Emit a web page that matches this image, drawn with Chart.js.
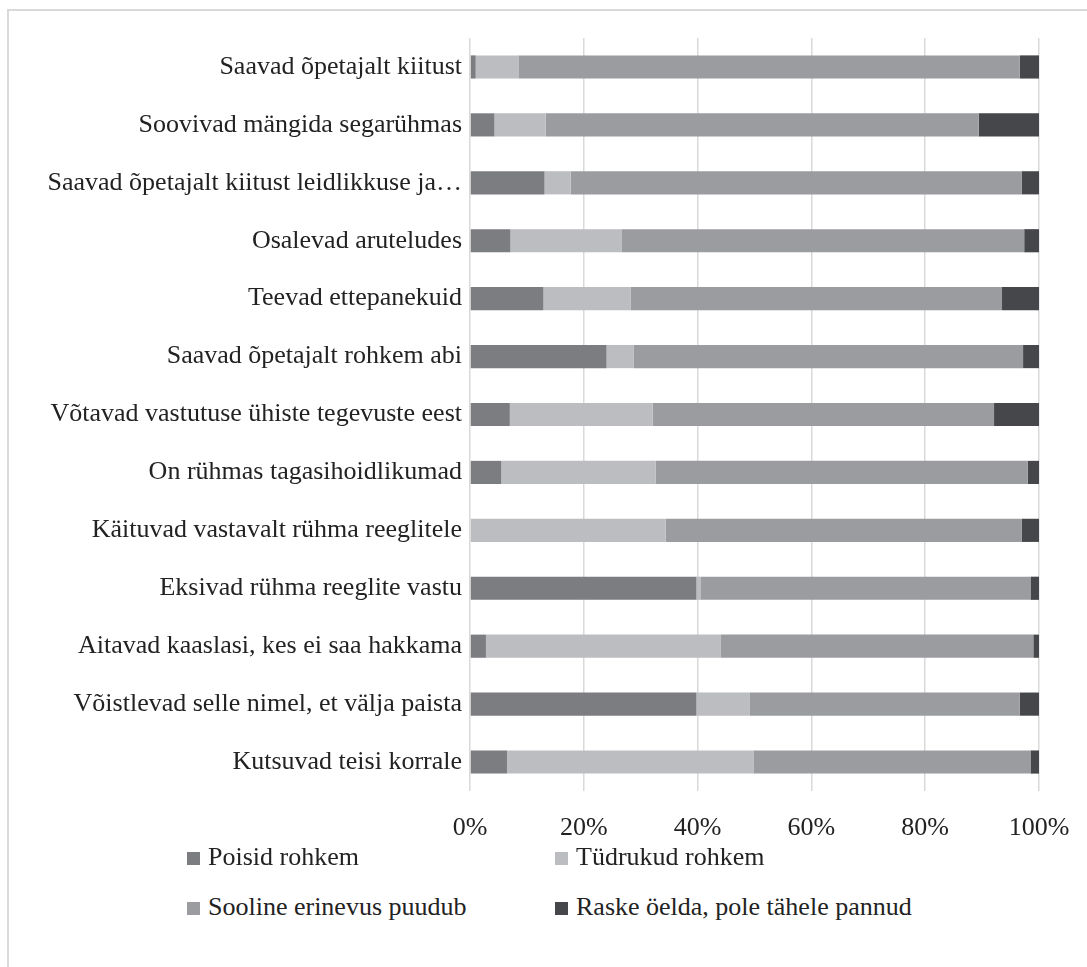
<!DOCTYPE html>
<html>
<head>
<meta charset="utf-8">
<script src="https://cdn.jsdelivr.net/npm/chart.js@4/dist/chart.umd.min.js"></script>
<style>
  html,body{margin:0;padding:0;background:#fff;overflow:hidden}
  #frame{position:absolute;left:7px;top:9px;width:1200px;height:1100px;border-top:2px solid #d9d9d9;border-left:2px solid #d9d9d9}
  #wrap{position:absolute;left:0;top:0;width:1087px;height:851px}
  #legend{position:absolute;left:0;top:0;font-family:"Liberation Serif",serif;font-size:26px;color:#222}
  .item{position:absolute;display:flex;align-items:center;white-space:nowrap;line-height:1}
  .box{width:13px;height:13px;margin-right:8px;margin-top:3px}
</style>
</head>
<body>
<div id="frame"></div>
<div id="wrap"><canvas id="chart"></canvas></div>
<div id="legend"></div>
<script>
// categories (top to bottom)
const categories = [
  'Saavad õpetajalt kiitust',
  'Soovivad mängida segarühmas',
  'Saavad õpetajalt kiitust leidlikkuse ja…',
  'Osalevad aruteludes',
  'Teevad ettepanekuid',
  'Saavad õpetajalt rohkem abi',
  'Võtavad vastutuse ühiste tegevuste eest',
  'On rühmas tagasihoidlikumad',
  'Käituvad vastavalt rühma reeglitele',
  'Eksivad rühma reeglite vastu',
  'Aitavad kaaslasi, kes ei saa hakkama',
  'Võistlevad selle nimel, et välja paista',
  'Kutsuvad teisi korrale'
];

const seriesNames = ['Poisid rohkem', 'Tüdrukud rohkem', 'Sooline erinevus puudub', 'Raske öelda, pole tähele pannud'];
const seriesColors = ['#7c7d81', '#bcbdc0', '#9b9ca0', '#46474a'];

// percent values, same order as categories
const poisid    = [1.0, 4.3, 13.1, 7.1, 12.9, 24.0, 7.0, 5.5, 0.0, 39.8, 2.8, 39.8, 6.5];
const tudrukud  = [7.5, 9.0, 4.6, 19.5, 15.3, 4.8, 25.1, 27.1, 34.4, 0.8, 41.3, 9.4, 43.4];
const erinevus  = [88.1, 76.1, 79.3, 70.8, 65.3, 68.4, 60.0, 65.4, 62.6, 57.9, 54.9, 47.4, 48.6];
const raske     = [3.4, 10.6, 3.0, 2.6, 6.5, 2.8, 7.9, 2.0, 3.0, 1.5, 1.0, 3.4, 1.5];

const xTicks = [0, 20, 40, 60, 80, 100];

const FONT = '"Liberation Serif", serif';
const seriesData = [poisid, tudrukud, erinevus, raske];

const datasets = seriesNames.map((name, i) => ({
  label: name,
  data: seriesData[i],
  backgroundColor: seriesColors[i],
  borderWidth: 0,
  categoryPercentage: 0.8,
  barPercentage: 0.5
}));

Chart.defaults.font.family = FONT;
Chart.defaults.color = '#222';

new Chart(document.getElementById('chart').getContext('2d'), {
  type: 'bar',
  data: { labels: categories, datasets },
  options: {
    indexAxis: 'y',
    responsive: true,
    maintainAspectRatio: false,
    animation: false,
    layout: { padding: { top: 38, right: 48, left: 0, bottom: 0 } },
    plugins: { legend: { display: false }, tooltip: { enabled: false } },
    scales: {
      x: {
        stacked: true,
        min: 0, max: 100,
        afterBuildTicks: s => { s.ticks = xTicks.map(v => ({ value: v })); },
        afterFit: s => { s.height = 60; s.paddingRight = 0; s.paddingLeft = 0; },
        border: { display: false },
        grid: { color: '#d9d9d9', lineWidth: 1.5, drawTicks: false },
        ticks: { padding: 22, font: { size: 26 }, color: '#222', callback: v => v + '%' }
      },
      y: {
        stacked: true,
        afterFit: s => { s.width = 470; s.paddingTop = 0; s.paddingBottom = 0; },
        border: { display: false },
        grid: { display: false, drawTicks: false },
        ticks: { padding: 8, font: { size: 26 }, color: '#222', autoSkip: false }
      }
    }
  }
});

// legend in two columns
const legendPos = [[187, 844], [555, 844], [187, 894], [555, 894]];
const legendEl = document.getElementById('legend');
seriesNames.forEach((name, i) => {
  const it = document.createElement('div');
  it.className = 'item';
  it.style.left = legendPos[i][0] + 'px';
  it.style.top = legendPos[i][1] + 'px';
  it.innerHTML = `<span class="box" style="background:${seriesColors[i]}"></span><span>${name}</span>`;
  legendEl.appendChild(it);
});
</script>
</body>
</html>
